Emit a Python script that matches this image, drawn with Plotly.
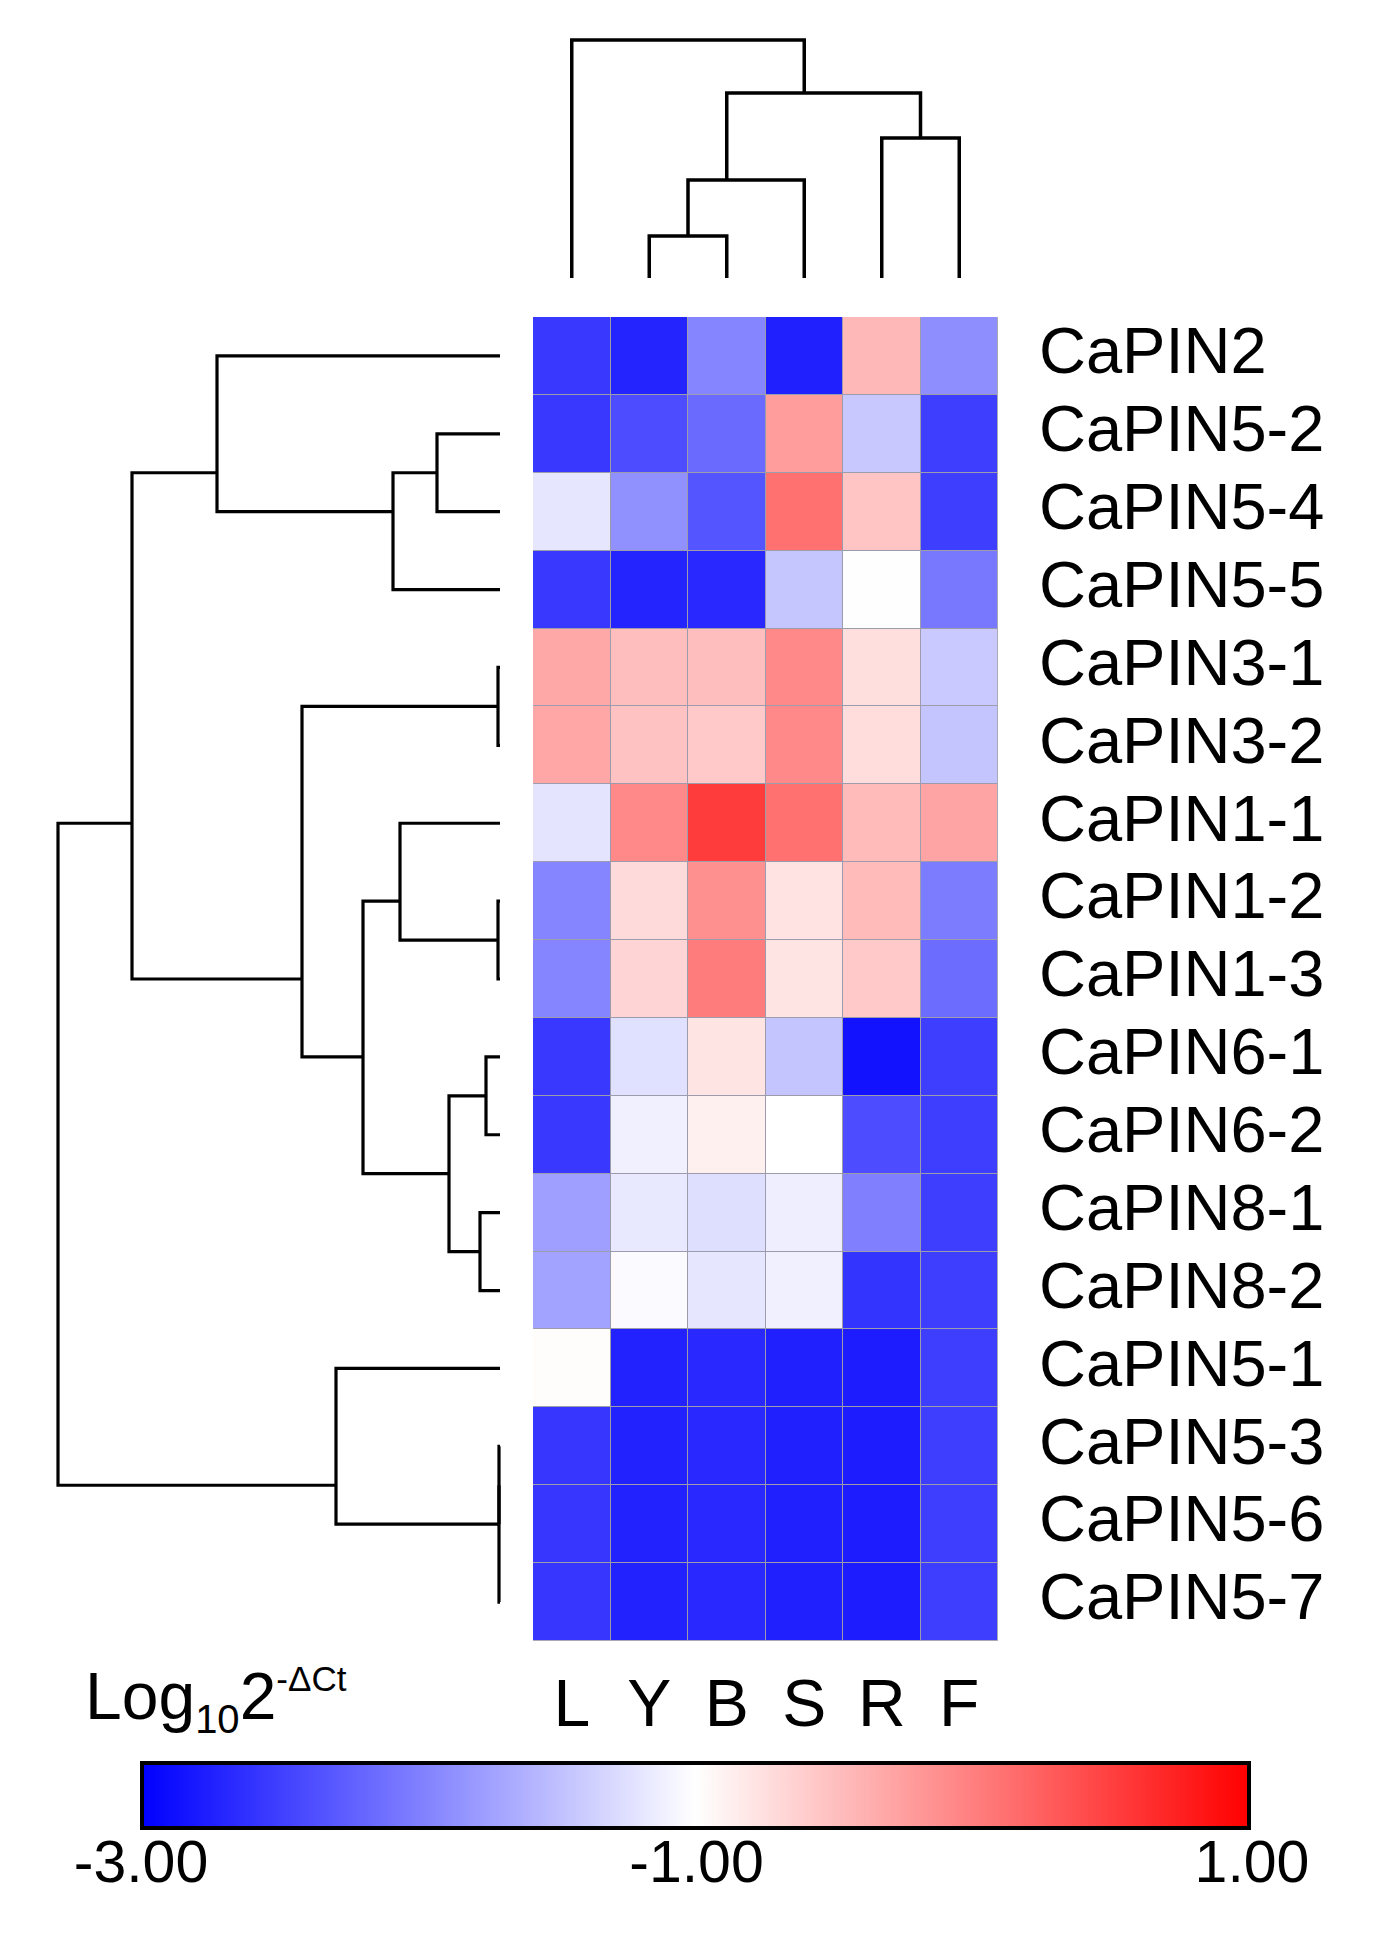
import plotly.graph_objects as go

# the page body adds an 8px margin, so the figure is drawn 16px smaller
OFF = 8
W, H = 1375 - 2 * OFF, 1935 - 2 * OFF

genes = ["CaPIN2", "CaPIN5-2", "CaPIN5-4", "CaPIN5-5", "CaPIN3-1", "CaPIN3-2",
         "CaPIN1-1", "CaPIN1-2", "CaPIN1-3", "CaPIN6-1", "CaPIN6-2", "CaPIN8-1",
         "CaPIN8-2", "CaPIN5-1", "CaPIN5-3", "CaPIN5-6", "CaPIN5-7"]
tissues = ["L", "Y", "B", "S", "R", "F"]

# log10 2^-dCt, one list per tissue (rows in gene order)
L_vals = [-2.56, -2.56, -1.20, -2.56, -0.32, -0.30, -1.21, -1.96, -1.96,
          -2.56, -2.56, -1.75, -1.73, -0.98, -2.58, -2.58, -2.58]
Y_vals = [-2.72, -2.40, -1.87, -2.72, -0.49, -0.52, -0.07, -0.71, -0.66,
          -1.24, -1.12, -1.18, -1.04, -2.73, -2.73, -2.73, -2.73]
B_vals = [-1.96, -2.17, -2.33, -2.69, -0.49, -0.58, 0.53, -0.13, 0.03,
          -0.79, -0.88, -1.26, -1.20, -2.69, -2.69, -2.69, -2.69]
S_vals = [-2.75, -0.22, 0.12, -1.45, -0.07, -0.07, 0.12, -0.77, -0.79,
          -1.46, -1.00, -1.13, -1.12, -2.75, -2.75, -2.75, -2.75]
R_vals = [-0.44, -1.43, -0.54, -1.01, -0.74, -0.73, -0.46, -0.46, -0.58,
          -2.86, -2.40, -2.00, -2.59, -2.78, -2.78, -2.78, -2.78]
F_vals = [-1.89, -2.51, -2.51, -2.06, -1.42, -1.46, -0.29, -2.03, -2.15,
          -2.51, -2.51, -2.51, -2.51, -2.51, -2.51, -2.51, -2.51]

# linkage-style merges: (child a, child b, height); leaves are 0..n-1
row_merges = [(1, 2, 63), (17, 3, 107), (0, 18, 283), (4, 5, 2), (7, 8, 2),
              (6, 21, 100), (9, 10, 14), (11, 12, 20), (23, 24, 51),
              (22, 25, 137), (20, 26, 198), (19, 27, 368), (14, 15, 1),
              (29, 16, 1), (13, 30, 164), (28, 31, 442)]
col_merges = [(1, 2, 42), (6, 3, 98), (4, 5, 140), (7, 8, 185), (0, 9, 238)]

cbar_vals = [-3, -1, 1]
cbar_text = ["-3.00", "-1.00", "1.00"]

FONT = "Arial, Liberation Sans, sans-serif"


def dendro(n, merges):
    leaves = {i: [i] for i in range(n)}
    height = {i: 0 for i in range(n)}
    pos, ht = [], []
    for k, (a, b, h) in enumerate(merges):
        pa = sum(leaves[a]) / len(leaves[a])
        pb = sum(leaves[b]) / len(leaves[b])
        pos += [pa, pa, pb, pb, None]
        ht += [height[a], h, h, height[b], None]
        leaves[n + k] = leaves[a] + leaves[b]
        height[n + k] = h
    return pos, ht


# page pixel -> paper fraction
def px_x(a, b):
    return [(a - OFF) / W, (b - OFF) / W]


def px_y(top, bottom):
    return [1 - (bottom - OFF) / H, 1 - (top - OFF) / H]


z = [list(r) for r in zip(L_vals, Y_vals, B_vals, S_vals, R_vals, F_vals)]

fig = go.Figure()

fig.add_trace(go.Heatmap(
    z=z, x=list(range(len(tissues))), y=list(range(len(genes))),
    zmin=-3, zmax=1, xgap=1, ygap=1,
    colorscale=[[0, "#0000FF"], [0.5, "#FFFFFF"], [1, "#FF0000"]],
    colorbar=dict(orientation="h", lenmode="pixels", len=1107,
                  thickness=65, outlinewidth=4, outlinecolor="black",
                  x=px_x(696, 696)[0], xanchor="center", xpad=0,
                  y=px_y(1763, 1763)[0], yanchor="top", ypad=0,
                  ticks="", showticklabels=False),
    xaxis="x", yaxis="y"))

cx, cy = dendro(len(tissues), col_merges)
fig.add_trace(go.Scatter(x=cx, y=cy, mode="lines", xaxis="x2", yaxis="y2",
                         line=dict(color="black", width=3.5), hoverinfo="skip"))

ry, rx = dendro(len(genes), row_merges)
fig.add_trace(go.Scatter(x=rx, y=ry, mode="lines", xaxis="x3", yaxis="y3",
                         line=dict(color="black", width=3.2), hoverinfo="skip"))

# empty trace so the colour-bar label scale gets its own subplot
fig.add_trace(go.Scatter(x=[], y=[], mode="lines", xaxis="x4", yaxis="y4",
                         hoverinfo="skip"))

# grey cell borders behind the heatmap
fig.add_shape(type="rect", xref="x", yref="y", x0=-0.5, x1=5.5, y0=-0.5,
              y1=len(genes) - 0.5, fillcolor="#9c9cac",
              line=dict(color="#b4b4c0", width=1), layer="below")

hidden = dict(visible=False, showgrid=False, zeroline=False, automargin=False)

fig.update_layout(
    width=W, height=H, margin=dict(l=0, r=0, t=0, b=0, autoexpand=False),
    paper_bgcolor="white", plot_bgcolor="white", showlegend=False,
    font=dict(family=FONT, color="black"),
    xaxis=dict(domain=px_x(533, 998), range=[-0.5, 5.5], tickvals=list(range(6)),
               ticktext=tissues, tickfont=dict(size=66), ticks="",
               ticklabelstandoff=18, showgrid=False, zeroline=False,
               showline=False, automargin=False),
    yaxis=dict(domain=px_y(317, 1641), range=[len(genes) - 0.5, -0.5],
               tickvals=[i - 0.07 for i in range(len(genes))], ticktext=genes,
               side="right", tickfont=dict(size=65), ticks="",
               ticklabelstandoff=40, showgrid=False, zeroline=False,
               showline=False, automargin=False),
    xaxis2=dict(domain=px_x(533, 998), range=[-0.5, 5.5], anchor="y2", **hidden),
    yaxis2=dict(domain=px_y(30, 288), range=[-10, 248], anchor="x2", **hidden),
    xaxis3=dict(domain=px_x(40, 510), range=[460, -10], anchor="y3", **hidden),
    yaxis3=dict(domain=px_y(317, 1641), range=[len(genes) - 0.5, -0.5],
                anchor="x3", **hidden),
    # scale under the colour bar that carries its tick labels
    xaxis4=dict(domain=px_x(141, 1252), range=[-3, 1], anchor="y4",
                tickvals=cbar_vals, ticktext=cbar_text, tickfont=dict(size=59),
                ticks="", ticklabelstandoff=-10, showgrid=False,
                zeroline=False, showline=False, fixedrange=True,
                automargin=False),
    yaxis4=dict(domain=px_y(1763, 1832), range=[0, 1], anchor="x4", **hidden),
)

fig.add_annotation(
    text="Log<sub><span style='font-size:40px'>10</span></sub>2"
         "<sup><span style='font-size:35px'>-ΔCt</span></sup>",
    xref="paper", yref="paper", x=px_x(83, 83)[0], y=px_y(1657, 1657)[0],
    xanchor="left", yanchor="top", showarrow=False,
    font=dict(size=66, color="black", family=FONT))

fig.write_html("out.html")
